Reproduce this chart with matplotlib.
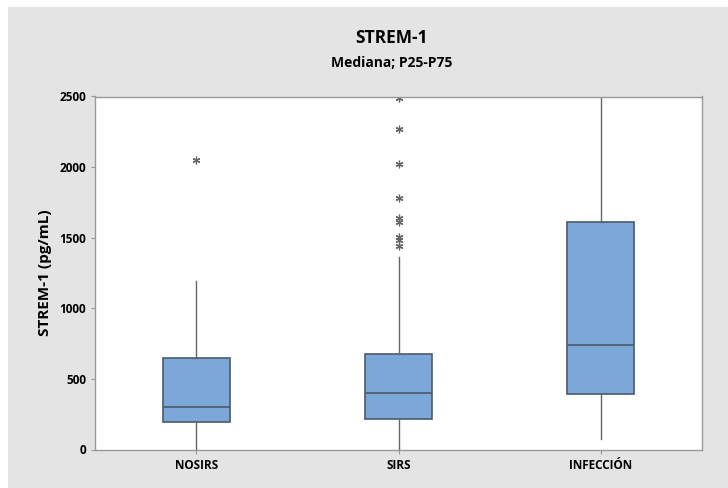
import matplotlib.pyplot as plt
from matplotlib.patches import Rectangle

# Resumen por grupo (pg/mL)
groups = ['NOSIRS', 'SIRS', 'INFECCIÓN']
q1 = [193, 217, 393]
median = [299, 400, 737]
q3 = [647, 676, 1612]
whisk_lo = [5, 5, 71]
whisk_hi = [1193, 1361, 2560]
outliers = [
    [2048],
    [2491, 2272, 2025, 1778, 1636, 1612, 1506, 1483, 1443],
    [],
]
yticks = [0, 500, 1000, 1500, 2000, 2500]

plt.rcParams['font.family'] = ['Open Sans', 'DejaVu Sans']

panel = '#e4e4e4'
fig = plt.figure(figsize=(7.28, 4.88), dpi=100, facecolor=panel)
# white margin at top and left, as in the reference
fig.patches.append(Rectangle((0, 1 - 7 / 488), 1, 7 / 488, transform=fig.transFigure,
                             facecolor='white', edgecolor='none', zorder=0))
fig.patches.append(Rectangle((0, 0), 8 / 728, 1, transform=fig.transFigure,
                             facecolor='white', edgecolor='none', zorder=0))

ax = fig.add_axes([95 / 728, 1 - 449.5 / 488, 607 / 728, 353 / 488])
ax.set_facecolor('white')

stats = []
for i, g in enumerate(groups):
    stats.append(dict(label=g, q1=q1[i], med=median[i], q3=q3[i],
                      whislo=whisk_lo[i], whishi=whisk_hi[i], fliers=outliers[i]))

ax.bxp(stats, positions=[1, 2, 3], widths=0.33, showcaps=False, patch_artist=True,
       boxprops=dict(facecolor='#7ba7d9', edgecolor='#4d5a66', linewidth=1.2),
       medianprops=dict(color='#4d5a66', linewidth=1.2),
       whiskerprops=dict(color='#666666', linewidth=1.0),
       flierprops=dict(marker=(6, 2, 0), markersize=5.5, markeredgecolor='#666666',
                       markeredgewidth=0.9, linestyle='none'))

ax.set_xlim(0.5, 3.5)
ax.set_ylim(0, 2500)
ax.set_yticks(yticks)
ax.set_yticklabels([str(v) for v in yticks], fontsize=8.5, fontweight='bold')
ax.set_xticks([1, 2, 3])
ax.set_xticklabels(groups, fontsize=8.5, fontweight='bold')
ax.tick_params(axis='both', colors='#999999', labelcolor='black', length=3, width=0.8)

for s in ax.spines.values():
    s.set_color('#999999')
    s.set_linewidth(1.0)

ax.set_ylabel('STREM-1 (pg/mL)', fontsize=11, fontweight='bold', labelpad=5)

fig.text(392 / 728, 1 - 38 / 488, 'STREM-1', ha='center', va='center',
         fontsize=12.5, fontweight='bold')
fig.text(392 / 728, 1 - 63 / 488, 'Mediana; P25-P75', ha='center', va='center',
         fontsize=10, fontweight='bold')

fig.savefig('out.png', dpi=100, facecolor=panel)
